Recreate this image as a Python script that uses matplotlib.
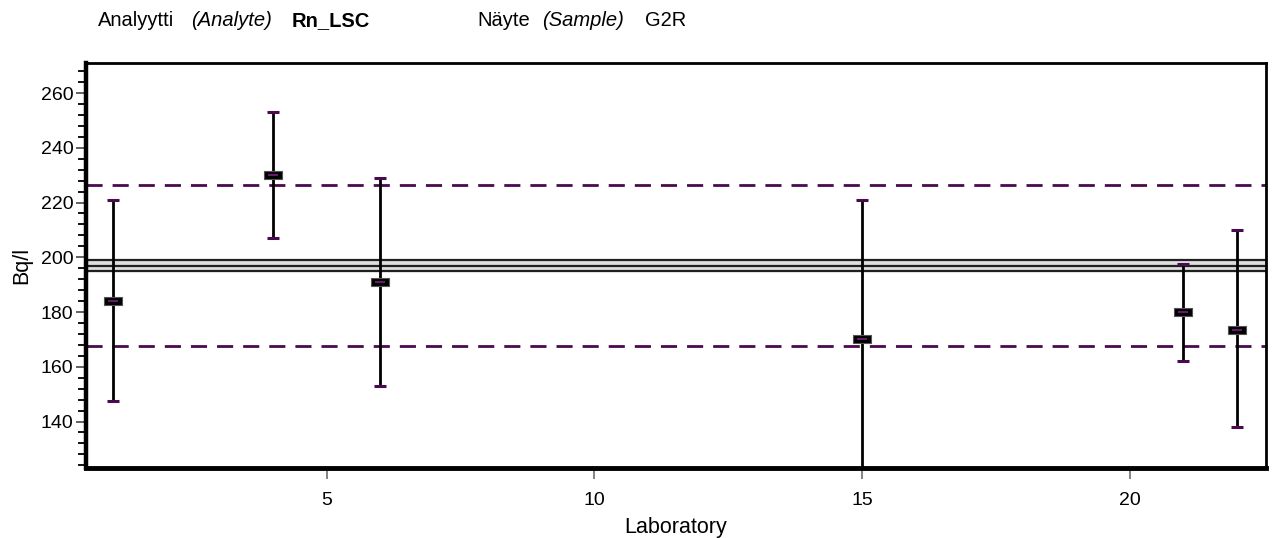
import matplotlib
matplotlib.use('Agg')
import matplotlib.pyplot as plt
from matplotlib.path import Path
from matplotlib.ticker import MultipleLocator

plt.rcParams['font.family'] = ['Liberation Sans', 'DejaVu Sans']

# Tulokset laboratorioittain
labs = [1, 4, 6, 15, 21, 22]
tulos = [184, 230, 191, 170, 180, 173.5]
ylaraja = [221, 253, 229, 221, 197.5, 210]
alaraja = [147.5, 207, 153, 119, 162, 138]

vertailuarvo = 197
epavarmuus = 2
sallittu = 0.15

purppura = '#4a0a4e'

fig = plt.figure(figsize=(12.73, 5.38), dpi=100)
ax = fig.add_axes([0.0676, 0.130, 0.927, 0.753])

# vertailuarvo ja sen epävarmuus
ax.axhspan(vertailuarvo - epavarmuus, vertailuarvo + epavarmuus, color='#dedede', zorder=1)
for v in [vertailuarvo - epavarmuus, vertailuarvo, vertailuarvo + epavarmuus]:
    ax.axhline(v, color='#202020', lw=1.6, zorder=2)

# sallittu poikkeama
for v in [vertailuarvo * (1 - sallittu), vertailuarvo * (1 + sallittu)]:
    ax.axhline(v, color=purppura, lw=2, dashes=(5.8, 3.6), zorder=2)

# virhepalkit
ax.vlines(labs, alaraja, ylaraja, color='black', lw=2, zorder=3)
ax.plot(labs, ylaraja, ls='none', marker='_', ms=8, mew=2.2, color=purppura, zorder=4)
ax.plot(labs, alaraja, ls='none', marker='_', ms=8, mew=2.2, color=purppura, zorder=4)

laatikko = Path([(-1, -0.4), (1, -0.4), (1, 0.4), (-1, 0.4), (-1, -0.4)],
                [Path.MOVETO, Path.LINETO, Path.LINETO, Path.LINETO, Path.CLOSEPOLY])
ax.plot(labs, tulos, ls='none', marker=laatikko, ms=13, mfc='black', mec='#555555', mew=0.8, zorder=5)
ax.plot(labs, tulos, ls='none', marker='_', ms=7, mew=1.4, color='#6a1a6e', zorder=6)

ax.set_xlim(0.5, 22.55)
ax.set_ylim(123, 271)
ax.set_xticks([5, 10, 15, 20])
ax.set_yticks(range(140, 261, 20))
ax.yaxis.set_minor_locator(MultipleLocator(4))

ax.tick_params(axis='both', direction='out', colors='#7a7a7a', labelcolor='black', labelsize=14)
ax.tick_params(axis='y', which='major', length=7, width=1.3, color='#555555', pad=2)
ax.tick_params(axis='y', which='minor', length=6, width=1.3)
ax.tick_params(axis='x', which='major', length=8, width=1.3, pad=9)

ax.spines['left'].set_linewidth(3.2)
ax.spines['bottom'].set_linewidth(3.5)
ax.spines['top'].set_linewidth(2)
ax.spines['right'].set_linewidth(2)

ax.set_xlabel('Laboratory', fontsize=15.5, labelpad=6)
ax.set_ylabel('Bq/l', fontsize=15.5, labelpad=6)

fig.text(0.077, 0.962, 'Analyytti', fontsize=14.5, va='center')
fig.text(0.150, 0.962, '(Analyte)', fontsize=14.5, style='italic', va='center')
fig.text(0.229, 0.962, 'Rn_LSC', fontsize=14.5, weight='bold', va='center')
fig.text(0.375, 0.962, 'Näyte', fontsize=14.5, va='center')
fig.text(0.426, 0.962, '(Sample)', fontsize=14.5, style='italic', va='center')
fig.text(0.507, 0.962, 'G2R', fontsize=14.5, va='center')

fig.savefig('out.png', dpi=100)
